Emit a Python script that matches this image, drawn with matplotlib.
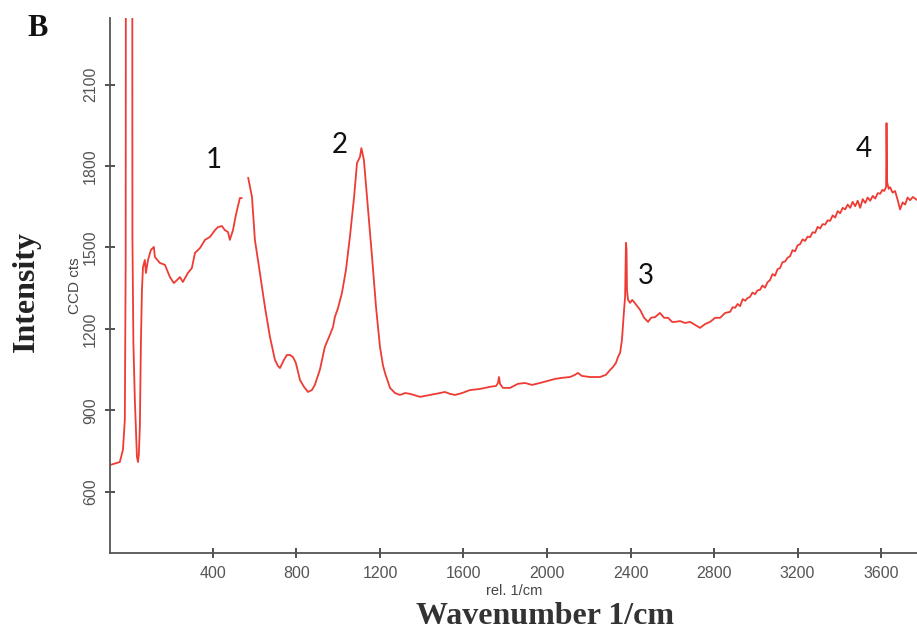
import numpy as np
import matplotlib
matplotlib.use("Agg")
from matplotlib import pyplot as plt

# Raman spectrum (wavenumber in 1/cm, intensity in CCD counts)
# NaN marks the small break in the trace just before 560 1/cm
wavenumber = [
    -93, -46, -31, -22, -18, -15, 12, 14.4, 19, 26, 36, 41, 45, 50, 55, 60, 65, 74, 79,
    89, 103, 117, 122, 146, 170, 194, 213, 228, 242, 256, 280, 299, 314, 338, 362,
    386, 410, 424, 443, 457, 472, 481, 496, 510, 529, 537, 540,
    569, 587, 601, 625, 649, 673, 697, 711, 721, 740, 754, 769, 783, 797, 817, 836,
    855, 874, 888, 912, 936, 960, 975, 984, 999, 1018, 1037, 1056, 1076, 1090, 1104,
    1111, 1123, 1138, 1162, 1181, 1200, 1214, 1224, 1248, 1272, 1296, 1320, 1344,
    1392, 1440, 1487, 1511, 1535, 1559, 1593, 1631, 1679, 1727, 1756, 1765, 1770,
    1775, 1789, 1823, 1861, 1895, 1928, 1966, 2004, 2038, 2072, 2110, 2134, 2148,
    2167, 2206, 2254, 2282, 2302, 2316, 2330, 2340, 2350, 2359, 2369, 2374, 2377,
    2378, 2381, 2383, 2388, 2398, 2408, 2417, 2431, 2446, 2465, 2484, 2498, 2518,
    2541, 2561, 2580, 2599, 2613, 2637, 2661, 2685, 2709, 2733, 2757, 2781, 2805,
    2829, 2853,
    2877, 2889, 2901, 2913, 2925, 2937, 2949, 2961, 2972, 2984, 2996, 3008, 3020,
    3032, 3044, 3056, 3068, 3080, 3092, 3104, 3116, 3128, 3140, 3152, 3164, 3176,
    3188, 3200, 3212, 3224, 3236, 3248, 3260, 3272, 3284, 3296, 3308, 3320, 3332,
    3344, 3356, 3368, 3380, 3392, 3404, 3416, 3428, 3440, 3452, 3464, 3476, 3488,
    3500, 3512, 3524, 3536, 3548, 3560, 3572, 3584, 3596, 3606, 3615, 3624, 3626,
    3629, 3636, 3643, 3655, 3667, 3679, 3691, 3703, 3715, 3727, 3739, 3752, 3772,
]
counts = [
    699, 710, 755, 865, 1443, 5000, 5000, 1539, 1148, 939, 729, 710, 736, 839, 1148,
    1344, 1428, 1454, 1406, 1454, 1491, 1502, 1465, 1443, 1436, 1391, 1369, 1380,
    1391, 1373, 1406, 1424, 1480, 1498, 1528, 1539, 1564, 1575, 1579, 1564, 1557,
    1528, 1564, 1620, 1682, 1682, np.nan,
    1756, 1686, 1528, 1406, 1281, 1171, 1086, 1064, 1056, 1086, 1104, 1104, 1097,
    1075, 1012, 987, 968, 975, 994, 1049, 1134, 1178, 1207, 1244, 1277, 1333, 1417,
    1539, 1686, 1811, 1833, 1866, 1822, 1686, 1465, 1281, 1134, 1067, 1038, 983, 964,
    957, 964, 961, 950, 957, 964, 968, 961, 957, 964, 975, 979, 987, 990, 1001, 1023,
    998, 983, 983, 998, 1001, 994, 1001, 1009, 1016, 1020, 1023, 1031, 1038, 1027,
    1023, 1023, 1031, 1049, 1060, 1075, 1097, 1112, 1160, 1270, 1318, 1454, 1517,
    1491, 1344, 1307, 1296, 1307, 1299, 1285, 1270, 1241, 1226, 1241, 1244, 1259,
    1241, 1241, 1226, 1226, 1229, 1222, 1226, 1215, 1204, 1218, 1226, 1241, 1241,
    1259,
    1263, 1280, 1278, 1292, 1284, 1310, 1304, 1314, 1318, 1334, 1328, 1342, 1344,
    1360, 1352, 1372, 1380, 1402, 1396, 1420, 1424, 1446, 1448, 1462, 1468, 1490,
    1486, 1508, 1512, 1530, 1524, 1540, 1538, 1556, 1554, 1576, 1570, 1586, 1584,
    1600, 1598, 1618, 1610, 1634, 1626, 1646, 1640, 1658, 1646, 1668, 1652, 1672,
    1646, 1678, 1664, 1684, 1672, 1690, 1680, 1700, 1698, 1712, 1708, 1723, 1958,
    1741, 1716, 1722, 1702, 1708, 1676, 1640, 1666, 1658, 1684, 1674, 1686, 1675,
]

# peak labels
peak_labels = ["1", "2", "3", "4"]
peak_x = [405, 1008, 2474, 3518]
peak_y = [1822, 1877, 1395, 1863]

x_ticks = [400, 800, 1200, 1600, 2000, 2400, 2800, 3200, 3600]
y_ticks = [600, 900, 1200, 1500, 1800, 2100]

fig = plt.figure(figsize=(9.17, 6.34), dpi=100)
ax = fig.add_axes([110 / 917, 1 - 553 / 634, 807 / 917, 535 / 634])

ax.plot(wavenumber, counts, color="#ee3b33", lw=1.3)

ax.set_xlim(-93, 3772)
ax.set_ylim(375, 2345)

ax.spines["top"].set_visible(False)
ax.spines["right"].set_visible(False)
for side in ["left", "bottom"]:
    ax.spines[side].set_color("#555555")
    ax.spines[side].set_linewidth(1.3)

ax.set_xticks(x_ticks)
ax.set_yticks(y_ticks)
ax.tick_params(direction="inout", length=7, width=1.2, color="#333333",
               labelcolor="#555555", labelsize=11.5)
ax.tick_params(axis="x", pad=6)
ax.tick_params(axis="y", pad=5)
for lab in ax.get_xticklabels() + ax.get_yticklabels():
    lab.set_family("Liberation Sans")
for lab in ax.get_yticklabels():
    lab.set_rotation(90)
    lab.set_va("center")

for lab, x, y in zip(peak_labels, peak_x, peak_y):
    ax.text(x, y, lab, ha="center", va="center", fontsize=20,
            family="Lato", color="#111111")

# small instrument labels
fig.text(514 / 917, 1 - 591 / 634, "rel. 1/cm", ha="center", va="center",
         fontsize=10.5, color="#444444", family="Liberation Sans")
fig.text(75 / 917, 1 - 286 / 634, "CCD cts", ha="center", va="center",
         fontsize=11, color="#444444", family="Liberation Sans", rotation=90)

# big serif labels
fig.text(545 / 917, 1 - 617 / 634, "Wavenumber 1/cm", ha="center", va="center",
         fontsize=23, fontweight="bold", family="Liberation Serif", color="#333333")
fig.text(26 / 917, 1 - 292 / 634, "Intensity", ha="center", va="center",
         fontsize=23, fontweight="bold", family="Liberation Serif", color="#222222",
         rotation=90)
fig.text(38 / 917, 1 - 28 / 634, "B", ha="center", va="center",
         fontsize=22, fontweight="bold", family="Liberation Serif", color="#111111")

fig.savefig("out.png", dpi=100)
